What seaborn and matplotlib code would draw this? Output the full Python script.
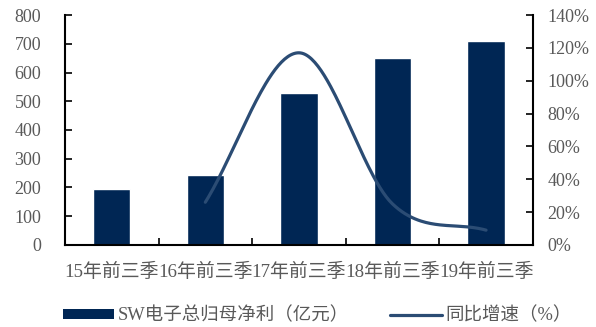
import numpy as np
import pandas as pd
import matplotlib
matplotlib.use("Agg")
import matplotlib.pyplot as plt
import seaborn as sns
from matplotlib.patches import Patch
from matplotlib.lines import Line2D
from matplotlib.ticker import FixedLocator, PercentFormatter

categories = ["15年前三季", "16年前三季", "17年前三季", "18年前三季", "19年前三季"]
profit = [193, 245, 530, 652, 710]
growth_cats = ["16年前三季", "17年前三季", "18年前三季", "19年前三季"]
growth = [26, 117, 25, 9]
bar_label = "SW电子总归母净利（亿元）"
line_label = "同比增速（%）"

sns.set_theme(style="white")
FAM = ["Liberation Serif", "Noto Sans CJK SC", "DejaVu Sans"]
plt.rcParams["font.family"] = FAM
TXT = "#595959"
BAR = "#002654"
LINE = "#2B4C74"
FS = 13

fig = plt.figure(figsize=(5.96, 3.27), dpi=100)
ax = fig.add_axes([0.109, 0.251, 0.785, 0.703])

df = pd.DataFrame({"cat": categories, "val": profit})
sns.barplot(data=df, x="cat", y="val", order=categories, color=BAR,
            saturation=1, width=0.4, ax=ax)
ax.set_xlim(-0.5, 4.5)
ax.set_ylim(0, 800)
ax.set_yticks(np.arange(0, 801, 100))
ax.set_xlabel("")
ax.set_ylabel("")

ax2 = ax.twinx()
# smooth (Catmull-Rom) rendering of the growth line through its data points
xs = np.array([categories.index(c) for c in growth_cats], dtype=float)
ys = np.array(growth, dtype=float)
def catmull(xp, yp, n=60):
    px = np.concatenate([[2 * xp[0] - xp[1]], xp, [2 * xp[-1] - xp[-2]]])
    py = np.concatenate([[2 * yp[0] - yp[1]], yp, [2 * yp[-1] - yp[-2]]])
    outx, outy = [], []
    for i in range(1, len(px) - 2):
        t = np.linspace(0, 1, n)
        for arr, out in ((px, outx), (py, outy)):
            p0, p1, p2, p3 = arr[i - 1], arr[i], arr[i + 1], arr[i + 2]
            m1 = (p2 - p0) / 2
            m2 = (p3 - p1) / 2
            h00 = 2 * t**3 - 3 * t**2 + 1
            h10 = t**3 - 2 * t**2 + t
            h01 = -2 * t**3 + 3 * t**2
            h11 = t**3 - t**2
            out.extend(h00 * p1 + h10 * m1 + h01 * p2 + h11 * m2)
    return np.array(outx), np.array(outy)
sx, sy = catmull(xs, ys)
sns.lineplot(x=sx, y=sy, ax=ax2, color=LINE, linewidth=2.3, sort=False,
             estimator=None)
ax2.set_ylim(0, 140)
ax2.set_yticks(np.arange(0, 141, 20))
ax2.yaxis.set_major_formatter(PercentFormatter(decimals=0))
ax2.set_xlim(-0.5, 4.5)

for a in (ax, ax2):
    for s in a.spines.values():
        s.set_visible(False)
    a.grid(False)
ax.spines["left"].set_visible(True)
ax.spines["bottom"].set_visible(True)
ax2.spines["right"].set_visible(True)
for s in (ax.spines["left"], ax.spines["bottom"], ax2.spines["right"]):
    s.set_color("black")
    s.set_linewidth(1.5)

ax.xaxis.set_minor_locator(FixedLocator([0.5, 1.5, 2.5, 3.5]))
ax.tick_params(axis="x", which="major", length=0, pad=13, labelsize=13.6, labelcolor=TXT)
ax.tick_params(axis="x", which="minor", direction="in", length=5, width=1.2,
               color="black", bottom=True)
ax.tick_params(axis="y", direction="in", length=5, width=1.2, color="black",
               left=True, labelsize=FS, labelcolor=TXT, pad=17)
ax2.tick_params(axis="y", direction="in", length=5, width=1.2, color="black",
                right=True, labelsize=FS, labelcolor=TXT, pad=10.5)
for lab in ax.get_xticklabels() + ax.get_yticklabels() + ax2.get_yticklabels():
    lab.set_fontfamily(FAM)

handles = [Patch(facecolor=BAR, edgecolor="none", label=bar_label),
           Line2D([0], [0], color=LINE, linewidth=2.3, label=line_label)]
fig.legend(handles=handles, loc="center", bbox_to_anchor=(0.532, 0.035), ncol=2,
           frameon=False, labelcolor=TXT, handlelength=2.8,
           handleheight=0.45, columnspacing=2.2, handletextpad=0.2,
           prop={"family": FAM, "size": 13.3})

fig.savefig("out.png", dpi=100)
